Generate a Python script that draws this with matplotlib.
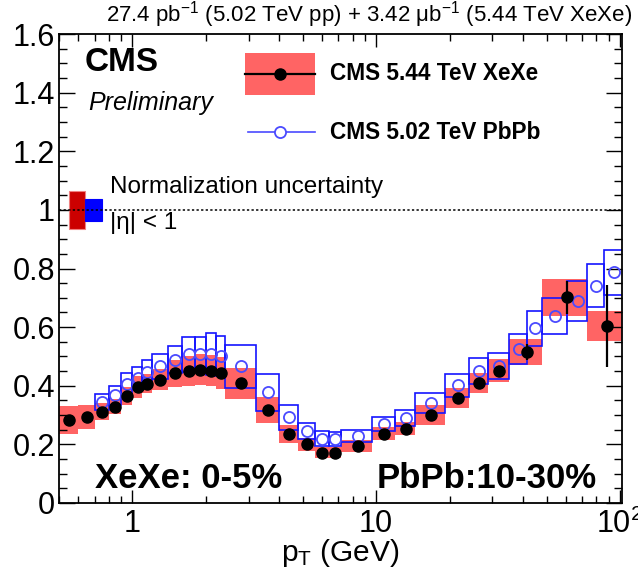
import numpy as np
import matplotlib.pyplot as plt
from matplotlib.ticker import FixedLocator, FixedFormatter, MultipleLocator, NullFormatter, LogLocator, FormatStrFormatter

plt.rcParams['font.family'] = ['Liberation Sans', 'DejaVu Sans']
plt.rcParams['mathtext.fontset'] = 'custom'
plt.rcParams['mathtext.rm'] = 'Liberation Sans'
plt.rcParams['mathtext.it'] = 'Liberation Sans:italic'

# XeXe 0-5% (CMS 5.44 TeV)
xe_edges = [0.5, 0.6, 0.7, 0.8, 0.9, 1.0, 1.1, 1.2, 1.4, 1.6, 1.8, 2.0, 2.2, 2.4, 3.2, 4.0, 4.8,
            5.6, 6.4, 7.2, 9.6, 12.0, 14.4, 19.2, 24.0, 28.8, 35.2, 48.0, 73.6, 103.6]
xe_raa = [0.282, 0.294, 0.311, 0.328, 0.364, 0.396, 0.407, 0.421, 0.443, 0.450,
          0.455, 0.452, 0.444, 0.409, 0.316, 0.235, 0.201, 0.171, 0.171, 0.194,
          0.237, 0.254, 0.300, 0.358, 0.410, 0.452, 0.515, 0.702, 0.605]
xe_sys = [0.048, 0.041, 0.029, 0.026, 0.031, 0.037, 0.033, 0.037, 0.046, 0.050,
          0.054, 0.054, 0.054, 0.053, 0.044, 0.030, 0.022, 0.019, 0.019, 0.020,
          0.023, 0.023, 0.034, 0.035, 0.035, 0.038, 0.043, 0.063, 0.051]
xe_stat = [0.002, 0.002, 0.002, 0.002, 0.002, 0.002, 0.002, 0.002, 0.002, 0.002,
           0.002, 0.002, 0.002, 0.002, 0.002, 0.002, 0.002, 0.002, 0.002, 0.003,
           0.003, 0.004, 0.005, 0.007, 0.010, 0.015, 0.028, 0.057, 0.140]

# PbPb 10-30% (CMS 5.02 TeV)
pb_edges = [0.7, 0.8, 0.9, 1.0, 1.1, 1.2, 1.4, 1.6, 1.8, 2.0, 2.2, 2.4, 3.2, 4.0, 4.8, 5.6,
            6.4, 7.2, 9.6, 12.0, 14.4, 19.2, 24.0, 28.8, 35.2, 41.6, 48.0, 60.8, 73.6, 86.4, 103.6]
pb_raa = [0.345, 0.367, 0.405, 0.427, 0.446, 0.466, 0.489, 0.508, 0.508, 0.508,
          0.502, 0.466, 0.377, 0.292, 0.246, 0.220, 0.218, 0.229, 0.271, 0.290,
          0.341, 0.401, 0.450, 0.467, 0.526, 0.596, 0.637, 0.690, 0.741, 0.787]
pb_sys = [0.027, 0.032, 0.040, 0.038, 0.041, 0.044, 0.047, 0.060, 0.060, 0.071,
          0.068, 0.072, 0.064, 0.042, 0.026, 0.024, 0.024, 0.020, 0.024, 0.028,
          0.034, 0.038, 0.045, 0.045, 0.051, 0.060, 0.061, 0.068, 0.073, 0.077]

# normalization uncertainties
norm_edges = [0.547, 0.642, 0.751]
norm_unc = [0.064, 0.038]

red = '#ff6464'
blue = '#1414ff'
blue_c = '#4a4aff'

fig = plt.figure(figsize=(6.38, 5.73), dpi=100)
ax = fig.add_axes([59/638, 1-503/573, 563/638, 469/573])

xe_e = np.array(xe_edges)
xe_c = 0.5*(xe_e[1:]+xe_e[:-1])
pb_e = np.array(pb_edges)
pb_c = 0.5*(pb_e[1:]+pb_e[:-1])
xe_raa = np.array(xe_raa); xe_sys = np.array(xe_sys)
pb_raa = np.array(pb_raa); pb_sys = np.array(pb_sys)

ax.bar(xe_e[:-1], 2*xe_sys, width=np.diff(xe_e), bottom=xe_raa-xe_sys, align='edge',
       color=red, linewidth=0, zorder=1)
ax.bar(pb_e[:-1], 2*pb_sys, width=np.diff(pb_e), bottom=pb_raa-pb_sys, align='edge',
       fill=False, edgecolor=blue, linewidth=1.2, zorder=2)

# normalization boxes
ne = np.array(norm_edges)
ax.bar(ne[:-1], 2*np.array(norm_unc), width=np.diff(ne), bottom=1-np.array(norm_unc), align='edge',
       color=['#cc0000', '#0000ff'], edgecolor=['#f08080', '#0000ff'], linewidth=0.8, zorder=2)
ax.axhline(1.0, color='black', linestyle=(0, (1.5, 1.5)), linewidth=1.1, zorder=3)

ax.plot(pb_c, pb_raa, 'o', mfc='none', mec=blue_c, mew=1.3, ms=8, zorder=4)
ax.errorbar(xe_c, xe_raa, yerr=xe_stat, fmt='o', color='black', ms=8, elinewidth=1.6,
            capsize=0, zorder=5)

ax.set_xscale('log')
ax.set_xlim(0.5, 102)
ax.set_ylim(0, 1.6)
ax.xaxis.set_major_locator(FixedLocator([1, 10, 100]))
ax.xaxis.set_major_formatter(FixedFormatter(['1', '10', r'$\mathregular{10^2}$']))
ax.xaxis.set_minor_locator(LogLocator(base=10, subs=np.arange(2, 10)))
ax.xaxis.set_minor_formatter(NullFormatter())
ax.yaxis.set_major_locator(MultipleLocator(0.2))
ax.yaxis.set_minor_locator(MultipleLocator(0.05))
ax.yaxis.set_major_formatter(FormatStrFormatter('%g'))

ax.tick_params(which='both', direction='in', top=True, right=True, width=1.0, labelsize=22)
ax.tick_params(axis='x', which='major', length=9.5, pad=4)
ax.tick_params(axis='x', which='minor', length=5)
ax.tick_params(axis='y', which='major', length=11.5, pad=3)
ax.tick_params(axis='y', which='minor', length=5.5)
for s in ax.spines.values():
    s.set_linewidth(1.3)

ax.set_xlabel(r'p$_\mathregular{T}$ (GeV)', fontsize=21.5, labelpad=-2)

# legend drawn by hand
ax.add_patch(plt.Rectangle((0.330, 0.870), 0.125, 0.090, transform=ax.transAxes,
                           color=red, linewidth=0, zorder=6))
ax.plot([0.330, 0.455], [0.915, 0.915], color='black', lw=1.6, transform=ax.transAxes, zorder=7)
ax.plot([0.3925], [0.915], 'o', color='black', ms=8, transform=ax.transAxes, zorder=7)
ax.plot([0.336, 0.455], [0.791, 0.791], color=blue_c, lw=1.2, transform=ax.transAxes, zorder=7)
ax.plot([0.3925], [0.791], 'o', mfc='white', mec=blue_c, mew=1.3, ms=8, transform=ax.transAxes, zorder=8)
ax.text(0.481, 0.915, 'CMS 5.44 TeV XeXe', transform=ax.transAxes, fontsize=16.3,
        fontweight='bold', va='center', ha='left')
ax.text(0.481, 0.791, 'CMS 5.02 TeV PbPb', transform=ax.transAxes, fontsize=16.3,
        fontweight='bold', va='center', ha='left')

ax.text(0.046, 0.940, 'CMS', transform=ax.transAxes, fontsize=24, fontweight='bold',
        va='center', ha='left')
ax.text(0.0515, 0.853, 'Preliminary', transform=ax.transAxes, fontsize=18, style='italic',
        va='center', ha='left')
ax.text(0.0906, 0.674, 'Normalization uncertainty', transform=ax.transAxes, fontsize=17.5,
        va='center', ha='left')
ax.text(0.0906, 0.597, '|η| < 1', transform=ax.transAxes, fontsize=17.5,
        va='center', ha='left')
ax.text(0.064, 0.053, 'XeXe: 0-5%', transform=ax.transAxes, fontsize=25, fontweight='bold',
        va='center', ha='left')
ax.text(0.565, 0.053, 'PbPb:10-30%', transform=ax.transAxes, fontsize=25, fontweight='bold',
        va='center', ha='left')

fig.text(0.9906, 0.974, r'27.4 pb$^{\mathregular{-1}}$ (5.02 TeV pp) + 3.42 μb$^{\mathregular{-1}}$ (5.44 TeV XeXe)',
         fontsize=16, ha='right', va='center')

fig.savefig('out.png', dpi=100)
